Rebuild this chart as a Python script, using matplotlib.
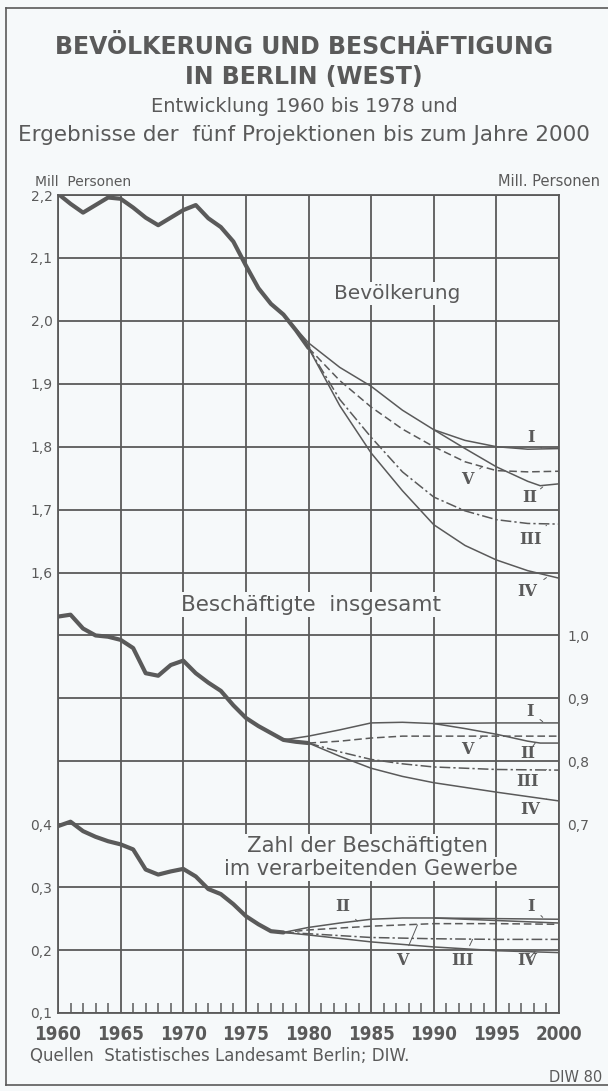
import numpy as np
import matplotlib
matplotlib.use("Agg")
import matplotlib.pyplot as plt
from matplotlib.lines import Line2D

INK = "#5a5a5a"
BG = "#f6f9fa"

# ---- data (Mill. Personen) ----
hist_years = list(range(1960, 1981))
pop_hist = [2.202, 2.186, 2.172, 2.184, 2.196, 2.194, 2.180, 2.164, 2.152, 2.164,
            2.176, 2.184, 2.163, 2.149, 2.126, 2.088, 2.052, 2.027, 2.010, 1.985, 1.957]

emp_years = list(range(1960, 1981))
emp_hist = [1.030, 1.033, 1.011, 1.000, 0.998, 0.993, 0.980, 0.940, 0.936, 0.953,
            0.960, 0.940, 0.925, 0.912, 0.889, 0.869, 0.856, 0.845, 0.834, 0.831, 0.829]

ind_years = list(range(1960, 1979))
ind_hist = [0.397, 0.404, 0.389, 0.380, 0.373, 0.368, 0.360, 0.328, 0.320, 0.325,
            0.329, 0.317, 0.297, 0.289, 0.273, 0.254, 0.241, 0.230, 0.228]

# projections, Bevoelkerung
pop_x = [1978, 1980, 1982.5, 1985, 1987.5, 1990, 1992.5, 1995, 1997.5, 2000]
pop_I = [2.010, 1.965, 1.926, 1.896, 1.858, 1.827, 1.810, 1.800, 1.796, 1.797]
pop_x2 = [1990, 1992.5, 1995, 1997.5, 1998.5, 2000]
pop_II = [1.827, 1.797, 1.768, 1.745, 1.738, 1.741]
pop_xb = [1980, 1982.5, 1985, 1987.5, 1990, 1992.5, 1995, 1997.5, 2000]
pop_III = [1.957, 1.875, 1.815, 1.760, 1.720, 1.698, 1.684, 1.678, 1.677]
pop_IV = [1.957, 1.865, 1.790, 1.730, 1.676, 1.643, 1.620, 1.603, 1.591]
pop_V = [1.957, 1.905, 1.863, 1.828, 1.800, 1.776, 1.762, 1.760, 1.761]

# projections, Beschaeftigte insgesamt
emp_x = [1978, 1980, 1982.5, 1985, 1987.5, 1990, 1995, 2000]
emp_I = [0.834, 0.840, 0.850, 0.861, 0.862, 0.860, 0.861, 0.861]
emp_x2 = [1990, 1992.5, 1995, 1997.5, 1998.5, 2000]
emp_II = [0.860, 0.852, 0.843, 0.832, 0.829, 0.829]
emp_xb = [1980, 1982.5, 1985, 1987.5, 1990, 1995, 2000]
emp_III = [0.829, 0.815, 0.803, 0.796, 0.791, 0.787, 0.786]
emp_IV = [0.829, 0.808, 0.789, 0.776, 0.766, 0.751, 0.737]
emp_V = [0.829, 0.832, 0.837, 0.840, 0.840, 0.840, 0.840]

# projections, verarbeitendes Gewerbe
ind_x = [1978, 1980, 1982.5, 1985, 1987.5, 1990, 1995, 2000]
ind_I = [0.228, 0.236, 0.243, 0.249, 0.251, 0.251, 0.250, 0.249]
ind_x2 = [1990, 1995, 2000]
ind_II = [0.251, 0.247, 0.243]
ind_xb = [1978, 1980, 1985, 1990, 1995, 2000]
ind_III = [0.228, 0.226, 0.220, 0.218, 0.217, 0.217]
ind_IV = [0.228, 0.224, 0.213, 0.205, 0.199, 0.196]
ind_V = [0.228, 0.232, 0.238, 0.242, 0.242, 0.241]

plt.rcParams['font.family'] = ['DejaVu Sans']
fig = plt.figure(figsize=(6.08, 10.91), dpi=100)
fig.patch.set_facecolor(BG)

pos = [58 / 608, 1 - 1013 / 1091, 501 / 608, 818 / 1091]
ax = fig.add_axes(pos)
ax.set_facecolor(BG)
ax.set_xlim(1960, 2000)
ax.set_ylim(0.1, 1.4)
yt = np.round(np.arange(0.1, 1.41, 0.1), 1)
ax.set_yticks(yt)
ax.set_yticklabels([f"{v:.1f}".replace('.', ',') if v <= 0.4 else '' for v in yt])
xt = list(range(1960, 2001, 5))
ax.set_xticks(xt)
ax.set_xticklabels([str(y) for y in xt], family=['Liberation Sans Narrow', 'DejaVu Sans'],
                   stretch='condensed', weight='bold', fontsize=13.5)
ax.set_xticks(range(1960, 2001), minor=True)
ax.grid(True, which='major', color=INK, lw=1.3)
ax.tick_params(axis='y', length=0, pad=4, labelsize=10, labelcolor=INK)
ax.tick_params(axis='x', which='major', length=0, pad=9, labelcolor=INK)
ax.tick_params(axis='x', which='minor', direction='in', length=7, width=1.1, color=INK)
for s in ax.spines.values():
    s.set_color(INK)
    s.set_linewidth(1.3)

ax_top = fig.add_axes(pos, sharex=ax)
ax_top.patch.set_visible(False)
ax_top.set_ylim(0.9, 2.2)
yt_top = np.round(np.arange(1.6, 2.21, 0.1), 1)
ax_top.set_yticks(yt_top)
ax_top.set_yticklabels([f"{v:.1f}".replace('.', ',') for v in yt_top])
ax_top.tick_params(axis='y', length=0, pad=4, labelsize=10, labelcolor=INK)
ax_top.tick_params(axis='x', which='both', bottom=False, labelbottom=False)
for s in ax_top.spines.values():
    s.set_visible(False)

ax_mid = fig.add_axes(pos, sharex=ax)
ax_mid.patch.set_visible(False)
ax_mid.set_ylim(0.4, 1.7)
yt_mid = np.round(np.arange(0.7, 1.01, 0.1), 1)
ax_mid.set_yticks(yt_mid)
ax_mid.set_yticklabels([f"{v:.1f}".replace('.', ',') for v in yt_mid])
ax_mid.yaxis.tick_right()
ax_mid.tick_params(axis='y', length=0, pad=6, labelsize=10, labelcolor=INK)
ax_mid.tick_params(axis='x', which='both', bottom=False, labelbottom=False)
for s in ax_mid.spines.values():
    s.set_visible(False)

thick = dict(color=INK, lw=3.0, solid_capstyle='round', solid_joinstyle='round')
thin = dict(color=INK, lw=1.1)
dash = dict(color=INK, lw=1.1, dashes=(5, 2.5))
dashdot = dict(color=INK, lw=1.1, dashes=(7, 2, 1.5, 2))


def draw_panel(a, hx, hy, x1, I, x2, II, xb, III, IV, xv, V):
    a.plot(x1, I, **thin)
    a.plot(x2, II, **thin)
    a.plot(xb, IV, **thin)
    a.plot(xb, III, **dashdot)
    a.plot(xv, V, **dash)
    a.plot(hx, hy, **thick)


draw_panel(ax_top, hist_years, pop_hist, pop_x, pop_I, pop_x2, pop_II,
           pop_xb, pop_III, pop_IV, pop_xb, pop_V)
draw_panel(ax_mid, emp_years, emp_hist, emp_x, emp_I, emp_x2, emp_II,
           emp_xb, emp_III, emp_IV, emp_xb, emp_V)
draw_panel(ax, ind_years, ind_hist, ind_x, ind_I, ind_x2, ind_II,
           ind_xb, ind_III, ind_IV, ind_xb, ind_V)

box = dict(facecolor=BG, edgecolor='none', pad=1.5)
ax_mid.text(1987.1, 2.044 - 0.5, 'Bevölkerung', ha='center', va='center',
            fontsize=14.5, color=INK, bbox=box, zorder=5)
ax_mid.text(1980.2, 1.049, 'Beschäftigte  insgesamt', ha='center', va='center',
            fontsize=15.5, color=INK, bbox=box, zorder=5)
ax_mid.text(1984.7, 0.365 + 0.3, 'Zahl der Beschäftigten', ha='center', va='center',
            fontsize=15.2, color=INK, bbox=box, zorder=5)
ax_mid.text(1985.0, 0.329 + 0.3, 'im verarbeitenden Gewerbe', ha='center', va='center',
            fontsize=15.0, color=INK, bbox=box, zorder=5)

# roman numeral labels with leaders
rom = dict(fontsize=11.5, color=INK, family='DejaVu Serif', weight='bold',
           ha='center', va='center')
lead = dict(arrowstyle='-', color=INK, lw=0.7, shrinkA=3, shrinkB=0)
top_labels = [('I', 1997.8, 1.814, 1998.6, 1.798), ('V', 1992.7, 1.748, 1993.8, 1.767),
              ('II', 1997.7, 1.719, 1998.7, 1.736), ('III', 1997.7, 1.652, 1999.0, 1.675),
              ('IV', 1997.5, 1.570, 1999.0, 1.592)]
mid_labels = [('I', 1997.7, 0.879, 1998.7, 0.863), ('V', 1992.7, 0.819, 1993.9, 0.840),
              ('II', 1997.5, 0.813, 1998.1, 0.829), ('III', 1997.5, 0.768, 1999.0, 0.787),
              ('IV', 1997.7, 0.724, 1999.0, 0.740)]
bot_labels = [('II', 1982.7, 0.270, 1983.9, 0.246), ('I', 1997.8, 0.270, 1998.7, 0.252),
              ('V', 1987.5, 0.183, 1988.7, 0.240), ('III', 1992.3, 0.183, 1993.1, 0.217),
              ('IV', 1997.5, 0.183, 1998.1, 0.198)]
for a, labs in ((ax_top, top_labels), (ax_mid, mid_labels), (ax, bot_labels)):
    for t, lx, ly, px, py in labs:
        a.annotate(t, xy=(px, py), xytext=(lx, ly), arrowprops=lead, **rom)

# titles and notes
fig.text(0.5, 1 - 47 / 1091, 'BEVÖLKERUNG UND BESCHÄFTIGUNG', ha='center', va='center',
         fontsize=17, weight='bold', color=INK)
fig.text(0.5, 1 - 77 / 1091, 'IN BERLIN (WEST)', ha='center', va='center',
         fontsize=17, weight='bold', color=INK)
fig.text(0.5, 1 - 107 / 1091, 'Entwicklung 1960 bis 1978 und', ha='center', va='center',
         fontsize=14, color=INK)
fig.text(304 / 608, 1 - 135 / 1091, 'Ergebnisse der  fünf Projektionen bis zum Jahre 2000',
         ha='center', va='center', fontsize=15.5, color=INK)
fig.text(35 / 608, 1 - 182 / 1091, 'Mill  Personen', ha='left', va='center',
         fontsize=10, color=INK)
fig.text(600 / 608, 1 - 182 / 1091, 'Mill. Personen', ha='right', va='center',
         fontsize=10.5, color=INK)
fig.text(30 / 608, 1 - 1056 / 1091, 'Quellen  Statistisches Landesamt Berlin; DIW.',
         ha='left', va='center', fontsize=12, color=INK)
fig.text(602 / 608, 1 - 1078 / 1091, 'DIW 80', ha='right', va='center',
         fontsize=10.5, color=INK)

# outer frame
fx0, fy0, fy1 = 6 / 608, 1 - 1085 / 1091, 1 - 8 / 1091
for xs, ys in (([fx0, fx0], [fy0, fy1]), ([fx0, 1], [fy1, fy1]), ([fx0, 1], [fy0, fy0])):
    fig.add_artist(Line2D(xs, ys, color=INK, lw=1.2, transform=fig.transFigure))

fig.savefig('out.png', dpi=100, facecolor=BG)
